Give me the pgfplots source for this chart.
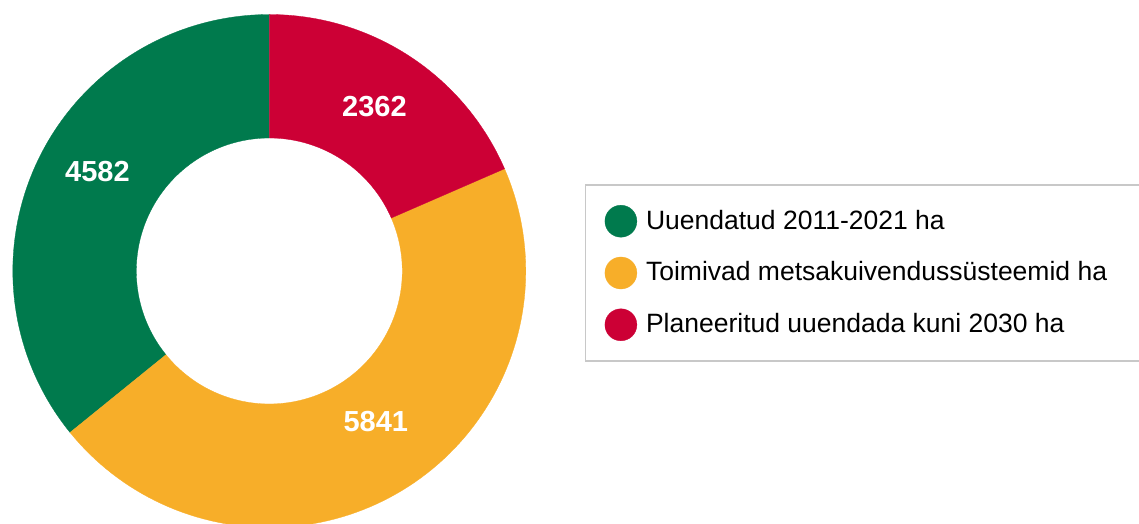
\documentclass[border=0pt]{standalone}
\usepackage{fontspec}
\setmainfont{Liberation Sans}
\usepackage{pgfplots}
\usepackage{pgfplotstable}
\pgfplotsset{compat=1.18}
\definecolor{cgreen}{RGB}{0,122,77}
\definecolor{corange}{RGB}{247,174,41}
\definecolor{cred}{RGB}{204,0,53}
\definecolor{cborder}{RGB}{200,200,200}

\pgfplotstableread{
series value
green 4582
orange 5841
red 2362
}\piedata

\pgfplotstablegetelem{0}{value}\of\piedata \let\vG\pgfplotsretval
\pgfplotstablegetelem{1}{value}\of\piedata \let\vO\pgfplotsretval
\pgfplotstablegetelem{2}{value}\of\piedata \let\vR\pgfplotsretval

\pgfmathsetmacro\tot{\vG+\vO+\vR}
% slices run clockwise from 12 o'clock: red, orange, green
\pgfmathsetmacro\aR{90}
\pgfmathsetmacro\bR{\aR-360*(\vR/\tot)}
\pgfmathsetmacro\aO{\bR}
\pgfmathsetmacro\bO{\aO-360*(\vO/\tot)}
\pgfmathsetmacro\aG{\bO}
\pgfmathsetmacro\bG{-270}

\def\cx{269.3}
\def\cy{253}
\def\ro{256.5}
\def\ri{133}

\newcommand\ring[3]{%
\addplot[fill=#3, draw=#3, line width=0.3pt, samples at={0,...,201}, variable=\kk]
 ({\cx + (\ri + (\ro-\ri)*(\kk<100.5))*cos((\kk<100.5)*(#1+(#2-#1)*\kk/100) + (\kk>100.5)*(#2+(#1-#2)*(\kk-101)/100))},
  {\cy + (\ri + (\ro-\ri)*(\kk<100.5))*sin((\kk<100.5)*(#1+(#2-#1)*\kk/100) + (\kk>100.5)*(#2+(#1-#2)*(\kk-101)/100))}) -- cycle;
}

\begin{document}
\begin{tikzpicture}
\begin{axis}[
  width=1139pt, height=524pt, scale only axis,
  xmin=0, xmax=1139, ymin=0, ymax=524,
  hide axis, clip=true,
  legend cell align=left,
  legend image code/.code={\fill[#1] (16pt,-1pt) circle[radius=16pt]; \path (41pt,0pt);},
  legend style={
    at={(axis cs:584.5,339.7)}, anchor=north west,
    draw=cborder, line width=1.5pt, fill=white,
    inner xsep=19.5pt, inner ysep=20pt, row sep=19.5pt,
    font=\fontsize{26.5}{30}\selectfont,
    nodes={inner sep=0pt},
  },
]
\ring{\aG}{\bG}{cgreen}
\addlegendentry{Uuendatud 2011-2021 ha}
\ring{\aO}{\bO}{corange}
\addlegendentry{Toimivad metsakuivendussüsteemid ha\rule{60pt}{0pt}}
\ring{\aR}{\bR}{cred}
\addlegendentry{Planeeritud uuendada kuni 2030 ha}

\node[text=white, inner sep=0pt, font=\fontsize{29}{32}\selectfont\bfseries] at (axis cs:374.5,417) {\vR};
\node[text=white, inner sep=0pt, font=\fontsize{29}{32}\selectfont\bfseries] at (axis cs:97.5,352) {\vG};
\node[text=white, inner sep=0pt, font=\fontsize{29}{32}\selectfont\bfseries] at (axis cs:375.8,102) {\vO};
\end{axis}
\pgfresetboundingbox
\path[use as bounding box] (current axis.south west) rectangle (current axis.north east);
\end{tikzpicture}
\end{document}
